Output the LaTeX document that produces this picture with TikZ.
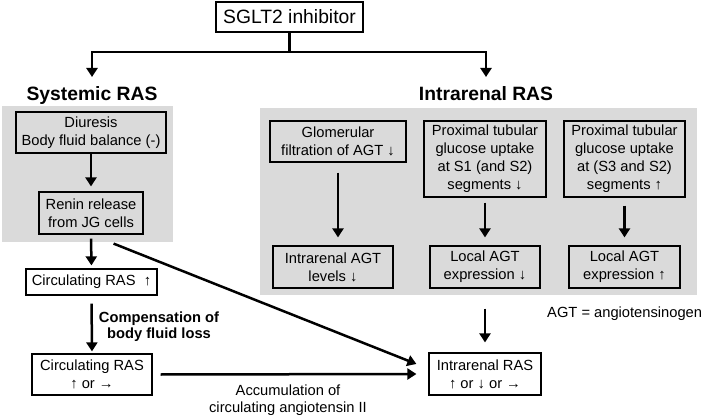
\documentclass[tikz,border=0pt]{standalone}
\usepackage{fontspec}
\setmainfont{Liberation Sans}
\usetikzlibrary{arrows.meta,calc}
\definecolor{panelgray}{RGB}{218,218,218}
\begin{document}
\begin{tikzpicture}[x=1pt,y=-1pt,
  box/.style={draw=black,line width=1.2pt,inner sep=0pt,align=center,font=\fontsize{14.7}{18}\selectfont},
  arr/.style={line width=2.5pt,-{Triangle[length=9pt,width=11pt]}},
  plainline/.style={line width=2.5pt},
  titletext/.style={font=\fontsize{19.3}{22}\selectfont\bfseries,inner sep=0pt},
  lbl/.style={inner sep=0pt,align=center,font=\fontsize{14.7}{17}\selectfont},
  lblbold/.style={inner sep=0pt,align=center,font=\fontsize{14.7}{16}\selectfont\bfseries},
  ]
\useasboundingbox (0,0) rectangle (702,417);
% panels
\fill[panelgray] (2,106) rectangle (173,242);
\fill[panelgray] (260,108) rectangle (697,295);

% top
\node[box,minimum width=147pt,minimum height=30pt,font=\fontsize{19.3}{22}\selectfont] (sglt) at (289.5,17) {SGLT2 inhibitor};
\coordinate (split) at (289.5,52);
\coordinate (sysend) at (92,77);
\coordinate (intend) at (486,77);
\draw[plainline] (sglt.south) -- (split);
\draw[arr] (split) -| (sysend);
\draw[arr] (split) -| (intend);

\node[titletext,anchor=base] (systitle) at (92,101) {Systemic RAS};
\node[titletext,anchor=base] (inttitle) at (486,101) {Intrarenal RAS};

% systemic
\node[box,minimum width=150pt,minimum height=41pt] (diur) at (91,132.5) {Diuresis\\Body fluid balance (-)};
\node[box,minimum width=104pt,minimum height=42pt] (renin) at (91,213) {Renin release\\from JG cells};
\node[box,minimum width=131pt,minimum height=26pt] (circa) at (91.5,282) {Circulating RAS~~↑};
\node[box,minimum width=120pt,minimum height=41pt] (circb) at (92,374.5) {Circulating RAS\\↑ or →};

% intrarenal
\node[box,minimum width=136pt,minimum height=41pt] (glom) at (338,141.5) {Glomerular\\filtration of AGT ↓};
\node[box,minimum width=122pt,minimum height=76pt] (proxa) at (485,159) {Proximal tubular\\glucose uptake\\at S1 (and S2)\\segments ↓};
\node[box,minimum width=121pt,minimum height=76pt] (proxb) at (624.5,159) {Proximal tubular\\glucose uptake\\at (S3 and S2)\\segments ↑};
\node[box,minimum width=120pt,minimum height=42pt] (iagt) at (333,267) {Intrarenal AGT\\levels ↓};
\node[box,minimum width=110pt,minimum height=42pt] (lagta) at (485,267) {Local AGT\\expression ↓};
\node[box,minimum width=111pt,minimum height=42pt] (lagtb) at (624.5,267) {Local AGT\\expression ↑};
\node[box,minimum width=112pt,minimum height=42pt] (intra) at (485,374) {Intrarenal RAS\\↑ or ↓ or →};

% labels
\node[lblbold] (comp) at (159,327) {Compensation of\\body fluid loss};
\node[lbl] (accum) at (288,400) {Accumulation of\\circulating angiotensin II};
\node[lbl,anchor=west] (agtdef) at (547,314) {AGT = angiotensinogen};

% arrows
\draw[arr,shorten >=5pt] (diur.south) -- (renin.north);
\draw[arr,shorten <=4pt,shorten >=3pt] (renin.south) -- (circa.north);
\draw[arr,shorten <=8pt,shorten >=2pt] (circa.south) -- (circb.north);
\draw[arr,shorten <=10pt,shorten >=8pt] (glom.south) -- (glom.south |- iagt.north);
\draw[arr,shorten <=5pt,shorten >=8pt] (proxa.south) -- (lagta.north);
\draw[arr,shorten <=8pt,shorten >=8pt] (proxb.south) -- (lagtb.north);
\draw[arr,shorten <=20pt,shorten >=10pt] (lagta.south) -- (intra.north);
\draw[arr] ([xshift=-30pt,yshift=-9pt]renin.south east) -- ([xshift=-12pt,yshift=10pt]intra.west);
\draw[arr] ([xshift=8pt]circb.east) -- ([xshift=-12pt]intra.west);
\end{tikzpicture}
\end{document}
